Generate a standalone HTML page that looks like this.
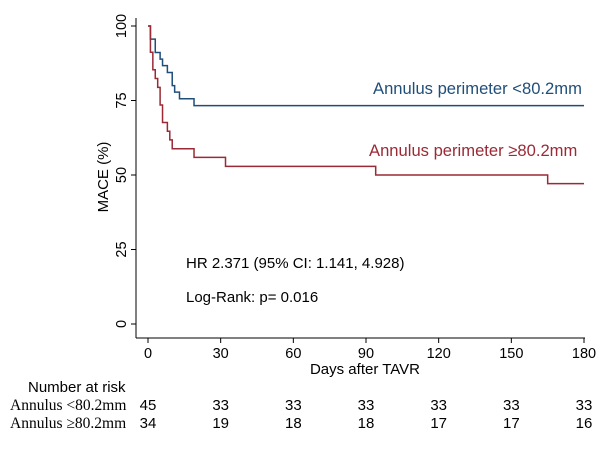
<!DOCTYPE html>
<html><head><meta charset="utf-8"><style>
body{margin:0;background:#fff;width:616px;height:448px;overflow:hidden}
svg text{font-family:"Liberation Sans",sans-serif}
</style></head><body>
<svg width="616" height="448">
<g id="axes"></g><g id="curves"></g><g id="risk"></g>
<text x="373" y="94" fill="#1f4e79" font-size="16.6">Annulus perimeter &lt;80.2mm</text>
<text x="369" y="156" fill="#9a2a35" font-size="16.6">Annulus perimeter ≥80.2mm</text>
<text x="186" y="268" font-size="15">HR 2.371 (95% CI: 1.141, 4.928)</text>
<text x="186" y="302" font-size="15">Log-Rank: p= 0.016</text>
<text x="365" y="374" font-size="15" text-anchor="middle">Days after TAVR</text>
<text transform="translate(108,177) rotate(-90)" font-size="15" text-anchor="middle">MACE (%)</text>
<text x="28" y="392" font-size="15">Number at risk</text>
<text x="10" y="410" font-size="15.5" style="font-family:'Liberation Serif',serif">Annulus &lt;80.2mm</text>
<text x="10" y="428" font-size="15.5" style="font-family:'Liberation Serif',serif">Annulus ≥80.2mm</text>
</svg>
<script>
const xTicks=[0,30,60,90,120,150,180];
const yTicks=[0,25,50,75,100];
const lowDays=[0,1,3,5,6,8,10,11,13,19,180];
const lowSurv=[100,95.6,91.1,88.9,86.7,84.4,80,77.8,75.6,73.3,73.3];
const highDays=[0,1,2,3,4,5,6,8,9,10,19,32,94,165,180];
const highSurv=[100,91.2,85.3,82.4,79.4,73.5,67.6,64.7,61.8,58.8,55.9,52.9,50,47.1,47.1];
const riskLow=[45,33,33,33,33,33,33];
const riskHigh=[34,19,18,18,17,17,16];
const X=d=>148+d*(584-148)/180, Y=v=>324-v*(324-26)/100;
const NS="http://www.w3.org/2000/svg";
function mk(t,a,p){const e=document.createElementNS(NS,t);for(const k in a)e.setAttribute(k,a[k]);p.appendChild(e);return e;}
const ax=document.getElementById('axes');
let l=mk('line',{x1:136,y1:Y(100)-8,x2:136,y2:338,stroke:'#000'},ax);


l=mk('line',{x1:136,y1:338,x2:X(180)+1,y2:338,stroke:'#000'},ax);


yTicks.forEach(v=>{mk('line',{x1:131,y1:Y(v),x2:136,y2:Y(v),stroke:'#000'},ax);
 const t=mk('text',{transform:`translate(126,${Y(v)}) rotate(-90)`,'font-size':14.5,'text-anchor':'middle'},ax);t.textContent=v;
 
 });
xTicks.forEach(v=>{mk('line',{x1:X(v),y1:338,x2:X(v),y2:343,stroke:'#000'},ax);
 const t=mk('text',{x:X(v),y:358,'font-size':14.5,'text-anchor':'middle'},ax);t.textContent=v;
 
 });
function step(d,s){let p=`M${X(d[0])},${Y(s[0])}`;for(let i=1;i<d.length;i++){p+=`H${X(d[i])}V${Y(s[i])}`;}return p;}
const cv=document.getElementById('curves');
let p=mk('path',{d:step(lowDays,lowSurv),fill:'none',stroke:'#1f4e79','stroke-width':1.5},cv);


p=mk('path',{d:step(highDays,highSurv),fill:'none',stroke:'#9a2a35','stroke-width':1.5},cv);


const rk=document.getElementById('risk');
xTicks.forEach((v,i)=>{
 let t=mk('text',{x:X(v),y:410,'font-size':15,'text-anchor':'middle'},rk);t.textContent=riskLow[i];
 
 
 t=mk('text',{x:X(v),y:428,'font-size':15,'text-anchor':'middle'},rk);t.textContent=riskHigh[i];
 
 
});
</script>
</body></html>
